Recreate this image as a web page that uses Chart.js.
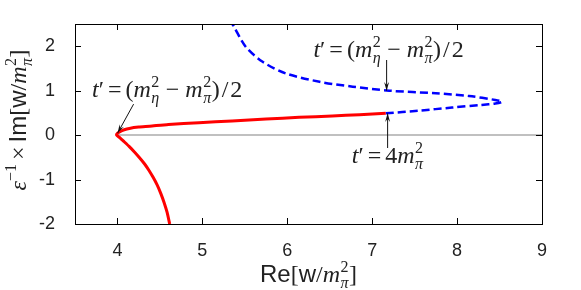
<!DOCTYPE html>
<html>
<head>
<meta charset="utf-8">
<script src="https://cdn.jsdelivr.net/npm/chart.js@4.4.1/dist/chart.umd.min.js"></script>
<style>
  html, body { margin: 0; padding: 0; background: #fff; }
  #wrap { width: 581px; height: 290px; }
</style>
</head>
<body>
<div id="wrap"><canvas id="chart" width="581" height="290"></canvas></div>
<script>
// axis ticks
const xTicks = [4, 5, 6, 7, 8, 9];
const yTicks = [-2, -1, 0, 1, 2];

// red solid branch (Re, Im), bottom -> cusp -> right
const redRe = [4.615, 4.585, 4.55, 4.51, 4.47, 4.42, 4.37, 4.32, 4.26, 4.20, 4.14, 4.08, 4.03, 3.99, 4.0, 4.03, 4.08, 4.14, 4.25, 4.38, 4.60, 4.96, 5.35, 5.75, 6.14, 6.53, 6.85, 7.16];
const redIm = [-2.0, -1.74, -1.52, -1.31, -1.13, -0.95, -0.79, -0.65, -0.51, -0.38, -0.26, -0.15, -0.06, 0.0, 0.04, 0.08, 0.12, 0.15, 0.18, 0.20, 0.24, 0.28, 0.32, 0.36, 0.40, 0.43, 0.46, 0.49];

// blue dashed branch, from the end of the red one round the tip and up
const blueRe = [7.16, 7.55, 7.94, 8.29, 8.45, 8.53, 8.45, 8.14, 7.75, 7.20, 6.77, 6.38, 5.98, 5.71, 5.51, 5.36, 5.35];
const blueIm = [0.49, 0.55, 0.62, 0.68, 0.71, 0.75, 0.79, 0.88, 0.94, 1.0, 1.09, 1.20, 1.39, 1.65, 1.99, 2.48, 2.5];

// grey Im = 0 line
const zeroRe = [3.99, 9];
const zeroIm = [0, 0];

const toPoints = (xs, ys) => xs.map((x, i) => ({ x, y: ys[i] }));

const SERIF = '"Liberation Serif", "DejaVu Serif", serif';
const SANS = '"Liberation Sans", Arial, sans-serif';
const INK = '#222';

// draws a run of text pieces; a piece can carry a stacked sup/sub pair
function drawRich(ctx, parts, x, y, align) {
  const widthOf = (p) => {
    if (p.stack) {
      return Math.max(...p.stack.map((s) => { ctx.font = s.f; return ctx.measureText(s.t).width; })) + 1;
    }
    ctx.font = p.f;
    return ctx.measureText(p.t).width + (p.gap || 0) * 2;
  };
  const total = parts.reduce((sum, p) => sum + widthOf(p), 0);
  let cx = align === 'center' ? x - total / 2 : x;
  ctx.textBaseline = 'alphabetic';
  ctx.textAlign = 'left';
  parts.forEach((p) => {
    const w = widthOf(p);
    if (p.stack) {
      p.stack.forEach((s) => {
        ctx.font = s.f;
        ctx.fillText(s.t, cx + 0.5, y + s.dy);
      });
    } else {
      ctx.font = p.f;
      ctx.fillText(p.t, cx + (p.gap || 0), y + (p.dy || 0));
    }
    cx += w;
  });
}

function msq(sub, size) {
  const small = Math.round(size * 0.66);
  return [
    { t: 'm', f: `italic ${size}px ${SERIF}` },
    { stack: [
      { t: '2', f: `${small}px ${SERIF}`, dy: -size * 0.42 },
      { t: sub, f: `italic ${small}px ${SERIF}`, dy: size * 0.27 }
    ] }
  ];
}

function tEquals(size) {
  return [
    { t: 't', f: `italic ${size}px ${SERIF}` },
    { t: '\u2032', f: `${size}px ${SERIF}` },
    { t: '=', f: `${size}px ${SERIF}`, gap: 4 }
  ];
}

function arrow(ctx, x0, y0, x1, y1) {
  const ang = Math.atan2(y1 - y0, x1 - x0);
  ctx.save();
  ctx.strokeStyle = '#111';
  ctx.fillStyle = '#111';
  ctx.lineWidth = 1;
  ctx.beginPath();
  ctx.moveTo(x0, y0);
  ctx.lineTo(x1, y1);
  ctx.stroke();
  const len = 9, spread = 0.28;
  ctx.beginPath();
  ctx.moveTo(x1, y1);
  ctx.lineTo(x1 - len * Math.cos(ang - spread), y1 - len * Math.sin(ang - spread));
  ctx.lineTo(x1 - len * 0.6 * Math.cos(ang), y1 - len * 0.6 * Math.sin(ang));
  ctx.lineTo(x1 - len * Math.cos(ang + spread), y1 - len * Math.sin(ang + spread));
  ctx.closePath();
  ctx.fill();
  ctx.restore();
}

// frame, inward ticks on all four sides, axis titles and the labels
const decorations = {
  id: 'decorations',
  afterDraw(chart) {
    const { ctx, chartArea: a, scales: { x, y } } = chart;
    ctx.save();
    ctx.strokeStyle = '#000';
    ctx.lineWidth = 1;
    ctx.strokeRect(Math.round(a.left) + 0.5, Math.round(a.top) + 0.5,
      Math.round(a.right - a.left), Math.round(a.bottom - a.top));
    const tl = 6;
    ctx.beginPath();
    xTicks.forEach((v) => {
      const px = Math.round(x.getPixelForValue(v)) + 0.5;
      ctx.moveTo(px, a.bottom); ctx.lineTo(px, a.bottom - tl);
      ctx.moveTo(px, a.top); ctx.lineTo(px, a.top + tl);
    });
    yTicks.forEach((v) => {
      const py = Math.round(y.getPixelForValue(v)) + 0.5;
      ctx.moveTo(a.left, py); ctx.lineTo(a.left + tl, py);
      ctx.moveTo(a.right, py); ctx.lineTo(a.right - tl, py);
    });
    ctx.stroke();

    ctx.fillStyle = INK;
    // x title
    const ts = 24;
    drawRich(ctx, [
      { t: 'Re', f: `${ts}px ${SANS}` },
      { t: '[', f: `${ts}px ${SERIF}` },
      { t: 'w', f: `${ts}px ${SANS}` },
      { t: '/', f: `${ts}px ${SERIF}` },
      ...msq('\u03c0', ts),
      { t: ']', f: `${ts}px ${SERIF}` }
    ], (a.left + a.right) / 2, 282, 'center');

    // y title, rotated
    ctx.save();
    ctx.translate(26, (a.top + a.bottom) / 2 - 4);
    ctx.rotate(-Math.PI / 2);
    drawRich(ctx, [
      { t: '\u03b5', f: `italic ${ts}px ${SERIF}` },
      { t: '\u22121', f: `${Math.round(ts * 0.66)}px ${SERIF}`, dy: -ts * 0.42 },
      { t: '\u00d7', f: `${ts}px ${SERIF}`, gap: 4 },
      { t: 'Im', f: `${ts}px ${SANS}` },
      { t: '[', f: `${ts}px ${SERIF}` },
      { t: 'w', f: `${ts}px ${SANS}` },
      { t: '/', f: `${ts}px ${SERIF}` },
      ...msq('\u03c0', ts),
      { t: ']', f: `${ts}px ${SERIF}` }
    ], 0, 0, 'center');
    ctx.restore();

    // annotations
    const ms = 24;
    const halfLabel = [
      ...tEquals(ms),
      { t: '(', f: `${ms}px ${SERIF}` },
      ...msq('\u03b7', ms),
      { t: '\u2212', f: `${ms}px ${SERIF}`, gap: 6 },
      ...msq('\u03c0', ms),
      { t: ')', f: `${ms}px ${SERIF}` },
      { t: '/', f: `${ms}px ${SERIF}`, gap: 2 },
      { t: '2', f: `${ms}px ${SERIF}` }
    ];
    const cuspX = x.getPixelForValue(3.99), cuspY = y.getPixelForValue(0);
    drawRich(ctx, halfLabel, 92, 97, 'left');
    arrow(ctx, cuspX + 17, cuspY - 31, cuspX + 1, cuspY - 2);

    const upX = x.getPixelForValue(7.17), upY = y.getPixelForValue(1.0);
    drawRich(ctx, halfLabel, upX + 2, 57, 'center');
    arrow(ctx, upX, 60, upX, upY);

    const loX = x.getPixelForValue(7.17), loY = y.getPixelForValue(0.49);
    drawRich(ctx, [...tEquals(ms), { t: '4', f: `${ms}px ${SERIF}` }, ...msq('\u03c0', ms)],
      loX + 1, 163, 'center');
    arrow(ctx, loX + 1, 148, loX + 1, loY);
    ctx.restore();
  }
};

new Chart(document.getElementById('chart'), {
  type: 'scatter',
  data: {
    datasets: [
      {
        data: toPoints(redRe, redIm),
        showLine: true,
        borderColor: '#ff0000',
        borderWidth: 3,
        pointRadius: 0,
        tension: 0.2,
        order: 1
      },
      {
        data: toPoints(blueRe, blueIm),
        showLine: true,
        borderColor: '#0000ff',
        borderWidth: 2.5,
        borderDash: [8, 4],
        pointRadius: 0,
        tension: 0.3,
        order: 2
      },
      {
        data: toPoints(zeroRe, zeroIm),
        showLine: true,
        borderColor: '#c0c0c0',
        borderWidth: 2,
        pointRadius: 0,
        order: 3
      }
    ]
  },
  options: {
    responsive: false,
    animation: false,
    layout: { padding: { top: 24, right: 39, left: 0, bottom: 0 } },
    plugins: { legend: { display: false }, tooltip: { enabled: false } },
    scales: {
      x: {
        type: 'linear',
        min: 3.5,
        max: 9,
        grid: { display: false },
        border: { display: false },
        ticks: { color: INK, padding: 8, font: { family: SANS, size: 18 } },
        afterBuildTicks: (s) => { s.ticks = xTicks.map((v) => ({ value: v })); },
        afterFit: (s) => { s.height = 66; }
      },
      y: {
        type: 'linear',
        min: -2,
        max: 2.5,
        grid: { display: false },
        border: { display: false },
        ticks: { color: INK, padding: 12, font: { family: SANS, size: 18 }, callback: (v) => String(v) },
        afterBuildTicks: (s) => { s.ticks = yTicks.map((v) => ({ value: v })); },
        afterFit: (s) => { s.width = 75; }
      }
    }
  },
  plugins: [decorations]
});
</script>
</body>
</html>
